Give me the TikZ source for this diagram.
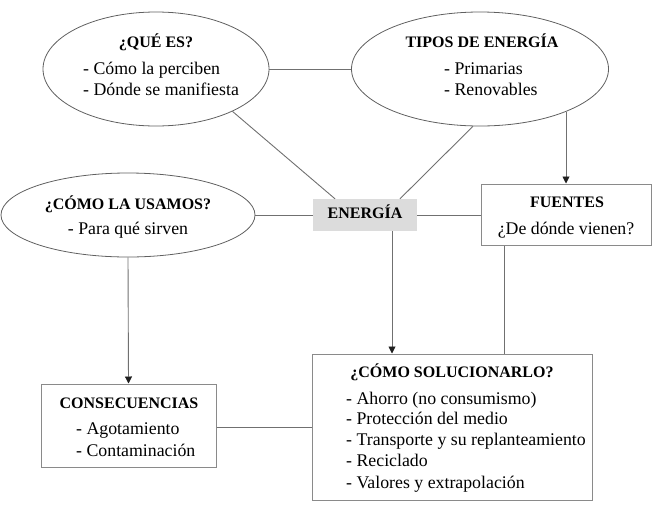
\documentclass[tikz,border=0pt]{standalone}
\usepackage{fontspec}
\setmainfont{Liberation Serif}
\usetikzlibrary{arrows.meta,shapes.geometric}
\definecolor{lincol}{HTML}{707070}
\definecolor{boxcol}{HTML}{8A8A8A}
\definecolor{ovalcol}{HTML}{606060}
\definecolor{hubfill}{HTML}{DCDCDC}
\definecolor{tipcol}{HTML}{202020}
\tikzset{
  oval/.style={draw=ovalcol, line width=0.8pt, ellipse, inner sep=0pt},
  rbox/.style={draw=boxcol, line width=1pt, rectangle, inner sep=0pt},
  conn/.style={draw=lincol, line width=0.9pt},
  arr/.style={conn, -{Triangle[length=7pt,width=7pt,color=tipcol]}},
  ttl/.style={font=\fontsize{16}{19}\selectfont\bfseries, anchor=mid, inner sep=0pt},
  itm/.style={font=\fontsize{17.8}{21}\selectfont, anchor=mid west, inner sep=0pt},
  itmc/.style={font=\fontsize{17.8}{21}\selectfont, anchor=mid, inner sep=0pt},
}
\begin{document}
\begin{tikzpicture}[x=1pt,y=-1pt]
\useasboundingbox (0,0) rectangle (655,504);
% shapes
\node[oval, minimum width=226pt, minimum height=114pt] (que) at (156,69) {};
\node[oval, minimum width=257pt, minimum height=114pt] (tipos) at (480,69) {};
\node[oval, minimum width=254pt, minimum height=84pt] (usa) at (128,215) {};
\node[fill=hubfill, minimum width=104pt, minimum height=32pt, inner sep=0pt] (ene) at (365,215) {};
\node[rbox, minimum width=170pt, minimum height=61pt] (fue) at (566,214.5) {};
\node[rbox, minimum width=175pt, minimum height=83pt] (cons) at (128.5,425.5) {};
\node[rbox, minimum width=280pt, minimum height=146pt] (sol) at (452,427) {};
% texts
\node[ttl] (queT) at (156,45) {¿QUÉ ES?};
\node[itm] (que1) at (83,72) {- Cómo la perciben};
\node[itm] (que2) at (83,93) {- Dónde se manifiesta};
\node[ttl] (tiposT) at (482,45) {TIPOS DE ENERGÍA};
\node[itm] (tipos1) at (444,72) {- Primarias};
\node[itm] (tipos2) at (444,93) {- Renovables};
\node[ttl] (usaT) at (128,207) {¿CÓMO LA USAMOS?};
\node[itmc] (usa1) at (128,232) {- Para qué sirven};
\node[ttl] (eneT) at (365,216) {ENERGÍA};
\node[ttl] (fueT) at (567,205) {FUENTES};
\node[itmc] (fue1) at (566,232) {¿De dónde vienen?};
\node[ttl] (consT) at (129,406) {CONSECUENCIAS};
\node[itm] (cons1) at (76,432) {- Agotamiento};
\node[itm] (cons2) at (76,454) {- Contaminación};
\node[ttl] (solT) at (452,375) {¿CÓMO SOLUCIONARLO?};
\node[itm] (sol1) at (346,402) {- Ahorro (no consumismo)};
\node[itm] (sol2) at (346,422) {- Protección del medio};
\node[itm] (sol3) at (346,443) {- Transporte y su replanteamiento};
\node[itm] (sol4) at (346,464) {- Reciclado};
\node[itm] (sol5) at (346,486) {- Valores y extrapolación};
% connectors
\coordinate (eneA) at ([xshift=-30pt]ene.north);
\coordinate (eneB) at ([xshift=35pt]ene.north);
\coordinate (eneS) at ([xshift=27pt]ene.south);
\coordinate (fueS) at ([xshift=-62pt]fue.south);
\coordinate (consE) at ([yshift=-1.5pt]cons.east);
\draw[conn] (que.east) -- (tipos.west);
\draw[conn] (que.-29) -- (eneA);
\draw[conn] (tipos.-97) -- (eneB);
\draw[conn] (usa.east) -- (ene.west);
\draw[conn] (ene.east) -- (fue.west |- ene.east);
\draw[arr] (tipos.south -| fue.north) ++(0,-14) -- (fue.north);
\draw[arr] (eneS) -- (eneS |- sol.north);
\draw[conn] (fueS) -- (fueS |- sol.north);
\draw[arr] (usa.south) -- (cons.north);
\draw[conn] (consE) -- (consE -| sol.west);
\end{tikzpicture}
\end{document}
